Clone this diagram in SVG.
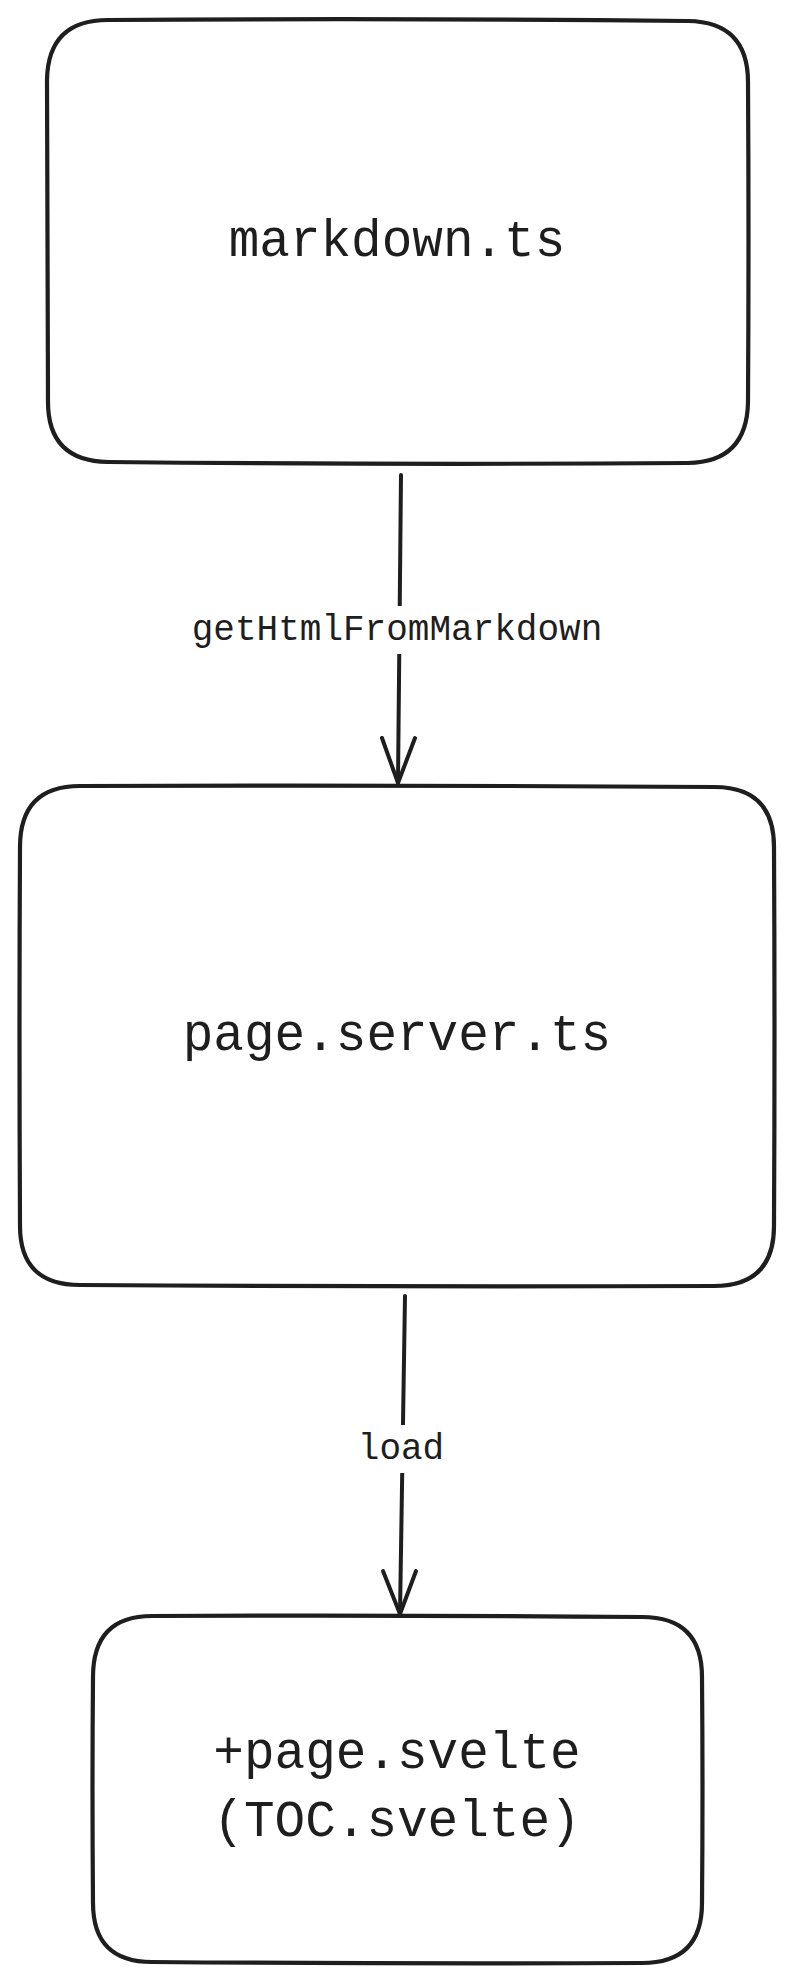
<svg xmlns="http://www.w3.org/2000/svg" width="794" height="1982" viewBox="0 0 794 1982">
<style>
.box{fill:#ffffff;stroke:#1e1e1e;stroke-width:4.2;stroke-linejoin:round}
.edge{fill:none;stroke:#1e1e1e;stroke-width:4;stroke-linecap:round;stroke-linejoin:round}
.t{font-family:"Liberation Mono","DejaVu Sans Mono",monospace;fill:#1e1e1e;text-anchor:middle}
.big{font-size:51px}
.lbl{font-size:36px}
.bg{fill:#ffffff}
</style>
<rect width="794" height="1982" fill="#ffffff"/>
<g id="node-markdown">
<path class="box" d="M108 20 Q400 18 688 21 Q748 22 748 82 Q749 240 748 402 Q747 462 688 463 Q400 465 108 462 Q48 461 48 402 Q47 240 47 80 Q48 20 108 20 Z"/>
<text class="t big" x="397" y="256">markdown.ts</text>
</g>
<g id="node-server">
<path class="box" d="M80 786 Q400 785 714 787 Q774 787 774 847 Q775 1030 774 1226 Q774 1286 714 1286 Q400 1287 80 1285 Q20 1285 20 1226 Q19 1030 20 847 Q20 786 80 786 Z"/>
<text class="t big" x="397" y="1050">page.server.ts</text>
</g>
<g id="node-svelte">
<path class="box" d="M152 1616 Q400 1615 642 1617 Q702 1617 702 1677 Q703 1790 702 1903 Q702 1963 642 1963 Q400 1964 152 1962 Q93 1962 93 1903 Q92 1790 93 1677 Q93 1616 152 1616 Z"/>
<text class="t big" x="397" y="1768">+page.svelte</text>
<text class="t big" x="397" y="1836">(TOC.svelte)</text>
</g>
<g id="connectors">
<path class="edge" d="M401 475 L398 783"/>
<path class="edge" d="M382 738 L398 783 L415 738"/>
<rect class="bg" x="180" y="606" width="436" height="48"/>
<text class="t lbl" x="397" y="640">getHtmlFromMarkdown</text>
<path class="edge" d="M405 1296 L400 1614"/>
<path class="edge" d="M383 1571 L400 1614 L416 1571"/>
<rect class="bg" x="350" y="1425" width="100" height="48"/>
<text class="t lbl" x="401" y="1459">load</text>
</g>
</svg>
